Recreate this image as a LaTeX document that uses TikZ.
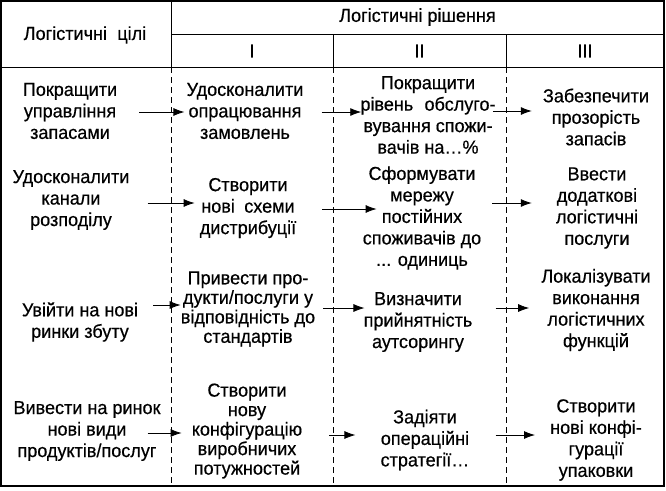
\documentclass[tikz,border=0pt]{standalone}
\usepackage{fontspec}
\setmainfont{Liberation Sans}[FakeStretch=0.96, FakeBold=0.5]
\usetikzlibrary{arrows.meta}

\begin{document}
\begin{tikzpicture}[x=1pt, y=-1pt, >={Latex[length=11pt,width=8pt]},
        txt/.style={align=center, inner sep=0pt, font=\fontsize{18.8}{21.5}\selectfont},
        tight/.style={txt, font=\fontsize{18.8}{19.5}\selectfont},
        arr/.style={->, line width=0.8pt},
        frame/.style={line width=1.4pt},
        rule/.style={line width=0.9pt},
        dline/.style={line width=0.8pt, dash pattern=on 6pt off 4pt}]
        \useasboundingbox (0,0) rectangle (666,490);

        % table
        \draw[frame] (1,1) rectangle (664,486);
        \draw[rule] (1,67) -- (664,67);
        \draw[rule] (171,34) -- (664,34);
        \draw[rule] (171,1) -- (171,67);
        \draw[rule] (333,34) -- (333,67);
        \draw[rule] (506,34) -- (506,67);
        \foreach \x in {171,333,506}
            \draw[dline] (\x,67) -- (\x,486);

        \node[txt] (hgoal) at (85,35) {Логістичні\hspace{0.55em}цілі};
        \node[txt] (hsol) at (417.5,17) {Логістичні рішення};
        \node[txt] (hI) at (252,51) {I};
        \node[txt] (hII) at (419.5,51) {II};
        \node[txt] (hIII) at (585,51) {III};

        \node[txt] (g1) at (70,111) {Покращити\\управління\\запасами};
        \node[txt] (g2) at (71,200) {Удосконалити\\канали\\розподілу};
        \node[txt] (g3) at (80,322) {Увійти на нові\\ринки збуту};
        \node[txt] (g4) at (87,431) {Вивести на ринок\\нові види\\продуктів/послуг};

        \node[txt] (s11) at (245,111) {Удосконалити\\опрацювання\\замовлень};
        \node[txt] (s21) at (248,208) {Створити\\нові\hspace{0.5em}схеми\\дистрибуції};
        \node[tight] (s31) at (248,309) {Привести про-\\дукти/послуги у\\відповідність до\\стандартів};
        \node[tight] (s41) at (247,431) {Створити\\нову\\конфігурацію\\виробничих\\потужностей};

        \node[txt] (s12) at (428,115) {Покращити\\рівень\hspace{0.6em}обслуго-\\вування спожи-\\вачів на…\%};
        \node[txt] (s22) at (422,218) {Сформувати\\мережу\\постійних\\споживачів до\\... одиниць};
        \node[txt] (s32) at (418,322) {Визначити\\прийнятність\\аутсорингу};
        \node[txt] (s42) at (425,440) {Задіяти\\операційні\\стратегії…};

        \node[txt] (s13) at (596,117) {Забезпечити\\прозорість\\запасів};
        \node[txt] (s23) at (597,208) {Ввести\\додаткові\\логістичні\\послуги};
        \node[txt] (s33) at (596,310) {Локалізувати\\виконання\\логістичних\\функцій};
        \node[txt] (s43) at (596,440) {Створити\\нові конфі-\\гурації\\упаковки};

        % arrows: from, to, tail shift x, shift y, shorten at tip
        \foreach \a/\b/\dx/\dy/\sh in {g1/s11/22/-1/2, g2/s21/18/-3/5, g3/s31/15/17/0, g4/s41/-13/-2/10,
                s11/s12/18/-1/-1, s21/s22/26/-1/-14, s31/s32/8/1/-1, s41/s42/27/-4/25,
                s12/s13/-3/4/11, s22/s23/11/15/24, s32/s33/23/14/12, s42/s43/26/5/15}
            \draw[arr, shorten >=\sh pt] ([xshift=\dx pt, yshift=\dy pt]\a.east) coordinate (t) -- (t -| \b.west);
    \end{tikzpicture}
\end{document}
